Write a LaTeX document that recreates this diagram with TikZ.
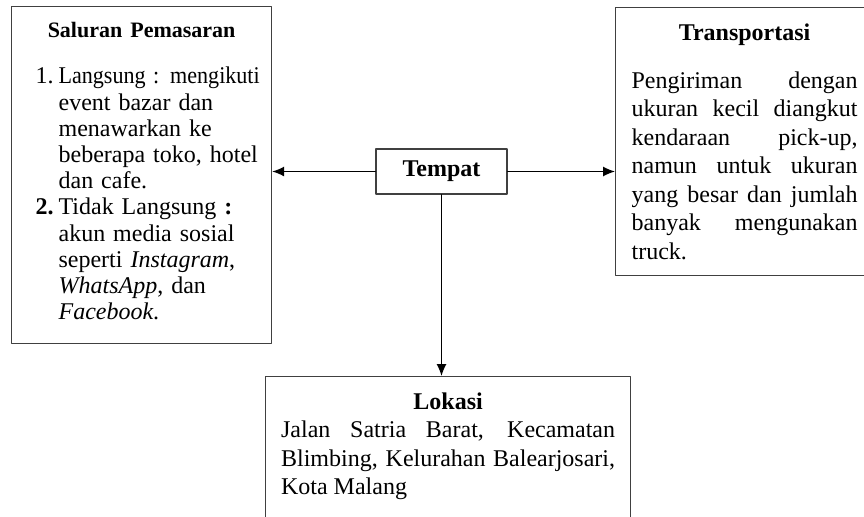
\documentclass[tikz,border=0pt]{standalone}
\usepackage{fontspec}
\setmainfont{Liberation Serif}
\usetikzlibrary{arrows.meta}

\newcommand{\butir}[2]{\par\hangindent=15.5pt\hangafter=1\noindent\hspace*{4pt}\makebox[11.5pt][l]{#1}#2\par}
\hfuzz=6pt

\begin{document}
\begin{tikzpicture}[line cap=round,line join=round,x=0.5pt,y=-0.5pt,
    kotak/.style={draw=black!75, line width=0.6pt, anchor=north west, inner xsep=8pt, inner ysep=8pt},
    pusat/.style={draw=black!75, line width=0.6pt, minimum width=65.5pt, minimum height=22.5pt},
    panah/.style={-{Latex[length=6pt,width=5pt]}, line width=0.6pt}]

    \useasboundingbox (0,0) rectangle (864,516);
    \clip (0,0) rectangle (864,516);

    % Centre node
    \node[pusat, font=\fontsize{12}{14}\selectfont\bfseries] (tempat) at (441.5,171.5) {Tempat};

    % Boxes round it
    \node[kotak, text width=114pt, align=left, font=\fontsize{12}{13.1}\selectfont] (pemasaran) at (11,6)
        {\makebox[\linewidth]{\fontsize{11}{13.1}\selectfont\bfseries Saluran Pemasaran}\par\vspace{9.9pt}
         \butir{1.}{\scalebox{0.92}[1]{Langsung : mengikuti}\newline event bazar dan\newline menawarkan ke\newline \mbox{beberapa toko, hotel}\newline dan cafe.}
         \butir{\textbf{2.}}{Tidak Langsung \textbf{:}\newline akun media sosial\newline seperti \textit{Instagram},\newline \textit{WhatsApp}, dan\newline \textit{Facebook}.\rule[-4pt]{0pt}{0pt}}};
    \node[kotak, text width=113pt, align=justify, font=\fontsize{12}{14.25}\selectfont] (transportasi) at (615,7)
        {\makebox[\linewidth]{\bfseries Transportasi}\par\vspace{9.75pt}
         Pengiriman dengan\linebreak ukuran kecil diangkut\linebreak kendaraan pick-up,\linebreak namun untuk ukuran\linebreak yang besar dan jumlah\linebreak banyak mengunakan\linebreak truck.};
    \node[kotak, inner xsep=7.75pt, text width=167pt, align=justify, font=\fontsize{12}{14.25}\selectfont] (lokasi) at (265,376)
        {\makebox[\linewidth]{\bfseries Lokasi}\par
         Jalan Satria Barat, Kecamatan\linebreak Blimbing, Kelurahan Balearjosari,\linebreak Kota Malang\rule[-20pt]{0pt}{0pt}};

    % Arrows
    \draw[panah] (tempat.west) -- (tempat.west -| pemasaran.east);
    \draw[panah] (tempat.east) -- (tempat.east -| transportasi.west);
    \draw[panah] (tempat.south) -- (tempat.south |- lokasi.north);
\end{tikzpicture}
\end{document}
